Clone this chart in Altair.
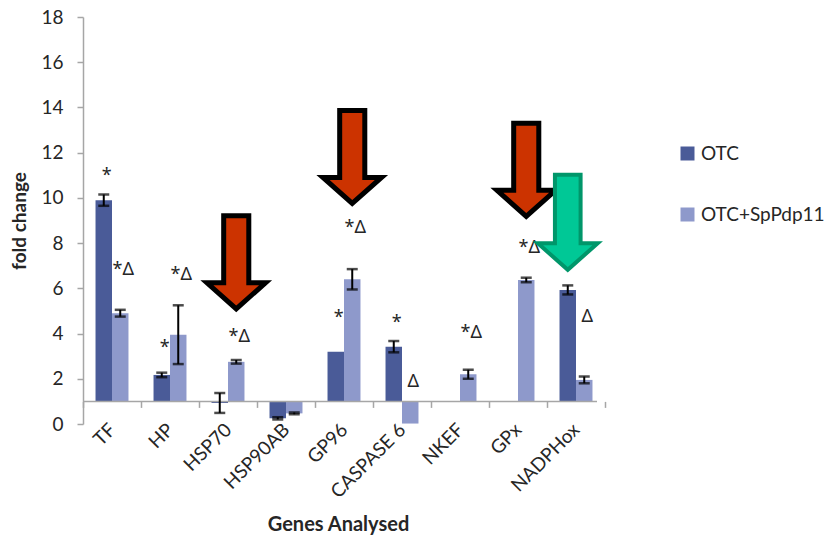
import altair as alt
import pandas as pd

# Genes on the category axis
genes = ["TF", "HP", "HSP70", "HSP90AB", "GP96", "CASPASE 6", "NKEF", "GPx", "NADPHox"]
series = ["OTC", "OTC+SpPdp11"]
series_colors = ["#4A5B98", "#8E99CB"]

# Fold change (relative to control = 1) and error for each group
otc_fold = [9.9, 2.17, 0.93, 0.25, 3.2, 3.42, 1.0, 1.0, 5.93]
otc_err = [0.25, 0.1, 0.44, 0.05, 0.0, 0.25, 0.0, 0.0, 0.2]
sp_fold = [4.9, 3.95, 2.75, 0.47, 6.4, 0.02, 2.2, 6.37, 1.95]
sp_err = [0.15, 1.3, 0.08, 0.04, 0.45, 0.0, 0.2, 0.1, 0.15]

# Bars grow from the control level
baseline = [1.0]

# Significance marks above the bars
ann_gene = ["TF", "TF", "HP", "HP", "HSP70", "GP96", "GP96", "CASPASE 6", "CASPASE 6", "NKEF", "GPx", "NADPHox"]
ann_series = ["OTC", "OTC+SpPdp11", "OTC", "OTC+SpPdp11", "OTC+SpPdp11", "OTC", "OTC+SpPdp11",
              "OTC", "OTC+SpPdp11", "OTC+SpPdp11", "OTC+SpPdp11", "OTC+SpPdp11"]
ann_text = ["*", "*Δ", "*", "*Δ", "*Δ", "*", "*Δ", "*", "Δ", "*Δ", "*Δ", "Δ"]
ann_y = [10.97, 6.81, 3.36, 6.59, 3.85, 4.69, 8.67, 4.47, 1.86, 4.03, 7.79, 4.73]

# Highlight arrows (gene, series, vertical centre)
red_gene = ["HSP70", "GP96", "GPx"]
red_series = ["OTC+SpPdp11", "OTC+SpPdp11", "OTC+SpPdp11"]
red_y = [7.15, 11.81, 11.24]
green_gene = ["NADPHox"]
green_series = ["OTC"]
green_y = [8.92]

bars = pd.DataFrame({
    "gene": genes * 2,
    "series": [series[0]] * len(genes) + [series[1]] * len(genes),
    "fold": otc_fold + sp_fold,
    "err": otc_err + sp_err,
})
bars["lo"] = bars["fold"] - bars["err"]
bars["hi"] = bars["fold"] + bars["err"]

ann = pd.DataFrame({"gene": ann_gene, "series": ann_series, "text": ann_text, "y": ann_y})
red = pd.DataFrame({"gene": red_gene, "series": red_series, "y": red_y})
green = pd.DataFrame({"gene": green_gene, "series": green_series, "y": green_y})
base = pd.DataFrame({"base": baseline})

FONT = "Lato"
AXIS_GREY = "#A6A6A6"
TEXT = "#262626"
W, H = 514, 407

ARROW = "M-0.27,-1L0.27,-1L0.27,0.44L0.63,0.44L0,1L-0.63,0.44L-0.27,0.44Z"

x_enc = alt.X(
    "gene:N",
    sort=genes,
    scale=alt.Scale(domain=genes, range=[0, 522], paddingInner=0, paddingOuter=0),
    axis=alt.Axis(
        title="Genes Analysed",
        labelAngle=-45,
        labelAlign="right",
        labelBaseline="middle",
        labelFont=FONT,
        labelFontSize=19,
        labelColor=TEXT,
        labelPadding=19,
        domain=False,
        ticks=True,
        tickBand="extent",
        tickSize=6,
        tickColor=AXIS_GREY,
        tickWidth=1.5,
        offset=-22.6,
        titleFont=FONT,
        titleFontSize=20,
        titleFontWeight="bold",
        titleColor=TEXT,
        titleX=255,
        titleY=123,
        titleBaseline="middle",
    ),
)
xo_enc = alt.XOffset(
    "series:N",
    sort=series,
    scale=alt.Scale(domain=series, paddingInner=0, paddingOuter=0.76),
)
y_scale = alt.Scale(domain=[0, 18], nice=False, zero=False)

bar_layer = alt.Chart(bars).mark_bar(clip=True).encode(
    x=x_enc,
    xOffset=xo_enc,
    y=alt.Y(
        "fold:Q",
        scale=y_scale,
        axis=alt.Axis(
            values=list(range(0, 19, 2)),
            grid=False,
            domainColor=AXIS_GREY,
            domainWidth=1.5,
            tickColor=AXIS_GREY,
            tickWidth=1.5,
            tickSize=6,
            labelFont=FONT,
            labelFontSize=19,
            labelColor=TEXT,
            labelPadding=14,
            title="fold change",
            titleFont=FONT,
            titleFontSize=19,
            titleFontWeight="bold",
            titleColor=TEXT,
            titlePadding=11,
        ),
    ),
    y2=alt.datum(1),
    color=alt.Color(
        "series:N",
        scale=alt.Scale(domain=series, range=series_colors),
        legend=alt.Legend(
            title=None,
            orient="none",
            legendX=595,
            legendY=127,
            symbolType="square",
            symbolSize=196,
            symbolStrokeWidth=0,
            labelFont=FONT,
            labelFontSize=19,
            labelColor=TEXT,
            labelOffset=4,
            labelLimit=200,
            rowPadding=41,
        ),
    ),
)

base_rule = alt.Chart(base).mark_rule(color=AXIS_GREY, strokeWidth=1.5).encode(
    y=alt.Y("base:Q", scale=y_scale),
    x=alt.value(0),
    x2=alt.value(W),
)

err_src = alt.Chart(bars).transform_filter("datum.err > 0")
err_rule = err_src.mark_rule(color="black", strokeWidth=2, clip=True).encode(
    x=x_enc, xOffset=xo_enc, y=alt.Y("lo:Q", scale=y_scale), y2="hi:Q"
)
cap_lo = err_src.mark_tick(color="black", thickness=2.5, size=11, clip=True).encode(
    x=x_enc, xOffset=xo_enc, y=alt.Y("lo:Q", scale=y_scale)
)
cap_hi = err_src.mark_tick(color="black", thickness=2.5, size=11, clip=True).encode(
    x=x_enc, xOffset=xo_enc, y=alt.Y("hi:Q", scale=y_scale)
)

labels = alt.Chart(ann).mark_text(
    font="Noto Sans", fontSize=18, color=TEXT, baseline="middle", dx=3, clip=True
).encode(
    x=x_enc, xOffset=xo_enc, y=alt.Y("y:Q", scale=y_scale), text="text:N"
)

red_arrows = alt.Chart(red).mark_point(
    shape=ARROW, size=93 * 93, filled=True, fill="#CC3300", fillOpacity=1,
    stroke="black", strokeWidth=5, strokeOpacity=1, strokeJoin="miter",
).encode(x=x_enc, xOffset=xo_enc, y=alt.Y("y:Q", scale=y_scale))

green_arrows = alt.Chart(green).mark_point(
    shape=ARROW, size=95 * 95, filled=True, fill="#00C896", fillOpacity=1,
    stroke="#00966A", strokeWidth=4, strokeOpacity=1, strokeJoin="miter",
).encode(x=x_enc, xOffset=xo_enc, y=alt.Y("y:Q", scale=y_scale))

chart = alt.layer(
    bar_layer, base_rule, err_rule, cap_lo, cap_hi, labels, red_arrows, green_arrows
).properties(
    width=W,
    height=H,
    autosize=alt.AutoSizeParams(type="none"),
    padding={"left": 83, "top": 17, "right": 829 - 83 - W, "bottom": 545 - 17 - H},
    background="white",
).configure_view(stroke=None)

chart.save("out.html", embed_options={"renderer": "svg", "actions": False})
